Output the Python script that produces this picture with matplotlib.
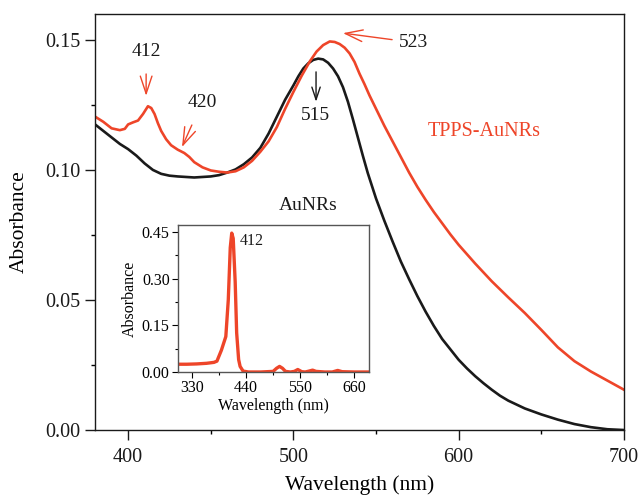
import numpy as np
import matplotlib
matplotlib.use('Agg')
import matplotlib.pyplot as plt
from matplotlib.ticker import MultipleLocator

plt.rcParams['font.family'] = ['Liberation Serif', 'DejaVu Serif']

RED = '#ee4529'
BLACK = '#1a1a1a'

# AuNRs (black)
wl_au = [380, 385, 390, 395, 400, 405, 410, 415, 420, 425, 430, 440, 450, 455, 460, 465,
         470, 475, 480, 485, 490, 495, 500, 503, 506, 509, 512, 515, 518, 521, 524, 527,
         530, 533, 536, 539, 542, 545, 550, 555, 560, 565, 570, 575, 580, 585, 590, 595,
         600, 605, 610, 615, 620, 625, 630, 640, 650, 660, 670, 680, 690, 700]
abs_au = [0.1175, 0.1150, 0.1125, 0.1100, 0.1080, 0.1055, 0.1025, 0.1000, 0.0985, 0.0978,
          0.0975, 0.0971, 0.0975, 0.0980, 0.0990, 0.1002, 0.1022, 0.1048, 0.1085, 0.1140,
          0.1205, 0.1270, 0.1325, 0.1360, 0.1390, 0.1410, 0.1423, 0.1428, 0.1425, 0.1412,
          0.1390, 0.1360, 0.1318, 0.1262, 0.1195, 0.1125, 0.1055, 0.0988, 0.0890, 0.0805,
          0.0725, 0.0648, 0.0580, 0.0515, 0.0455, 0.0400, 0.0350, 0.0310, 0.0270, 0.0237,
          0.0207, 0.0180, 0.0155, 0.0132, 0.0113, 0.0083, 0.0060, 0.0040, 0.0023, 0.0011,
          0.0003, 0.0]

# TPPS-AuNRs (red)
wl_tp = [380, 385, 390, 395, 398, 400, 403, 406, 409, 412, 414, 416, 418, 420, 423, 426,
         430, 434, 437, 440, 445, 450, 455, 460, 465, 470, 475, 480, 485, 490, 495, 500,
         505, 510, 514, 518, 522, 525, 528, 531, 534, 537, 540, 543, 546, 550, 555, 560,
         565, 570, 575, 580, 585, 590, 595, 600, 610, 620, 630, 640, 650, 660, 670, 680,
         690, 700]
abs_tp = [0.1205, 0.1185, 0.1160, 0.1153, 0.1158, 0.1175, 0.1183, 0.1190, 0.1215, 0.1245,
          0.1238, 0.1215, 0.1180, 0.1150, 0.1118, 0.1095, 0.1078, 0.1065, 0.1050, 0.1030,
          0.1010, 0.0998, 0.0993, 0.0990, 0.0995, 0.1010, 0.1035, 0.1070, 0.1110, 0.1165,
          0.1235, 0.1300, 0.1362, 0.1418, 0.1455, 0.1480, 0.1494, 0.1492, 0.1484, 0.1470,
          0.1448, 0.1415, 0.1370, 0.1330, 0.1287, 0.1235, 0.1170, 0.1110, 0.1050, 0.0990,
          0.0935, 0.0885, 0.0838, 0.0795, 0.0752, 0.0712, 0.0640, 0.0572, 0.0510, 0.0450,
          0.0385, 0.0318, 0.0265, 0.0225, 0.0190, 0.0155]

# inset: TPPS alone
wl_in = [302, 320, 340, 360, 375, 381, 390, 399, 404, 408, 411, 414, 418, 421, 425, 428,
         434, 445, 470, 495, 502, 508, 514, 520, 530, 538, 545, 553, 560, 568, 575, 582,
         600, 615, 626, 635, 660, 689]
abs_in = [0.025, 0.025, 0.026, 0.028, 0.031, 0.035, 0.07, 0.114, 0.232, 0.40, 0.447,
          0.43, 0.29, 0.126, 0.04, 0.018, 0.003, 0.0, 0.0, 0.002, 0.012, 0.018, 0.012,
          0.002, 0.0, 0.002, 0.008, 0.001, 0.0, 0.003, 0.006, 0.002, 0.0, 0.0, 0.005,
          0.001, 0.0, 0.0]

fig = plt.figure(figsize=(6.38, 4.96), dpi=100)
ax = fig.add_axes([0.149, 0.133, 0.829, 0.839])
ax.plot(wl_au, abs_au, color=BLACK, lw=1.9, solid_joinstyle='round')
ax.plot(wl_tp, abs_tp, color=RED, lw=1.9, solid_joinstyle='round')
ax.set_xlim(380, 700)
ax.set_ylim(0, 0.16)
ax.xaxis.set_major_locator(MultipleLocator(100))
ax.xaxis.set_minor_locator(MultipleLocator(50))
ax.yaxis.set_minor_locator(MultipleLocator(0.025))
ax.set_yticks([0, 0.05, 0.10, 0.15])
ax.set_yticklabels(['0.00', '0.05', '0.10', '0.15'])
ax.tick_params(which='major', direction='out', length=7, width=1, labelsize=14.5, colors=BLACK)
ax.tick_params(which='minor', direction='out', length=3, width=1)
ax.tick_params(axis='x', pad=6)
for s in ax.spines.values():
    s.set_linewidth(1.0)
    s.set_color(BLACK)
ax.set_xlabel('Wavelength (nm)', fontsize=15.5, labelpad=6)
ax.set_ylabel('Absorbance', fontsize=15.5, labelpad=12)

head = '->,head_length=0.9,head_width=0.3'
ax.annotate('412', xy=(410.9, 0.1285), xytext=(410.9, 0.1455), color=BLACK, fontsize=14,
            ha='center', va='center',
            arrowprops=dict(arrowstyle=head, color=RED, lw=1, shrinkA=8, shrinkB=0))
ax.annotate('420', xy=(432.6, 0.1088), xytext=(444.7, 0.126), color=BLACK, fontsize=14,
            ha='center', va='center',
            arrowprops=dict(arrowstyle=head, color=RED, lw=1, shrinkA=9, shrinkB=0))
ax.text(513.2, 0.121, '515', color=BLACK, fontsize=14, ha='center', va='center')
ax.annotate('', xy=(513.7, 0.1262), xytext=(513.7, 0.1377),
            arrowprops=dict(arrowstyle=head, color=BLACK, lw=1, shrinkA=0, shrinkB=0))
ax.annotate('523', xy=(530.0, 0.1526), xytext=(563.9, 0.149), color=BLACK, fontsize=14,
            ha='left', va='center',
            arrowprops=dict(arrowstyle=head, color=RED, lw=1, shrinkA=3, shrinkB=0))
ax.text(508.9, 0.0865, 'AuNRs', color=BLACK, fontsize=14, ha='center', va='center')
ax.text(615.3, 0.1146, 'TPPS-AuNRs', color=RED, fontsize=14.5, ha='center', va='center')

# inset
ins = fig.add_axes([0.279, 0.250, 0.299, 0.296])
ins.plot(wl_in, abs_in, color=RED, lw=2.4, solid_joinstyle='round')
ins.set_xlim(302, 689)
ins.set_ylim(0, 0.4725)
ins.set_xticks([330, 440, 550, 660])
ins.xaxis.set_minor_locator(MultipleLocator(55))
ins.set_yticks([0, 0.15, 0.30, 0.45])
ins.set_yticklabels(['0.00', '0.15', '0.30', '0.45'])
ins.yaxis.set_minor_locator(MultipleLocator(0.075))
ins.tick_params(which='major', direction='out', length=4, width=0.8, labelsize=11.5, pad=2)
ins.tick_params(which='minor', direction='out', length=2, width=0.8)
for s in ins.spines.values():
    s.set_linewidth(1.0)
    s.set_color('#555555')
ins.set_xlabel('Wavelength (nm)', fontsize=11.5, labelpad=1)
ins.set_ylabel('Absorbance', fontsize=11.5, labelpad=3)
ins.text(427.6, 0.422, '412', fontsize=11.5, ha='left', va='center', color=BLACK)

fig.savefig('out.png', dpi=100)
